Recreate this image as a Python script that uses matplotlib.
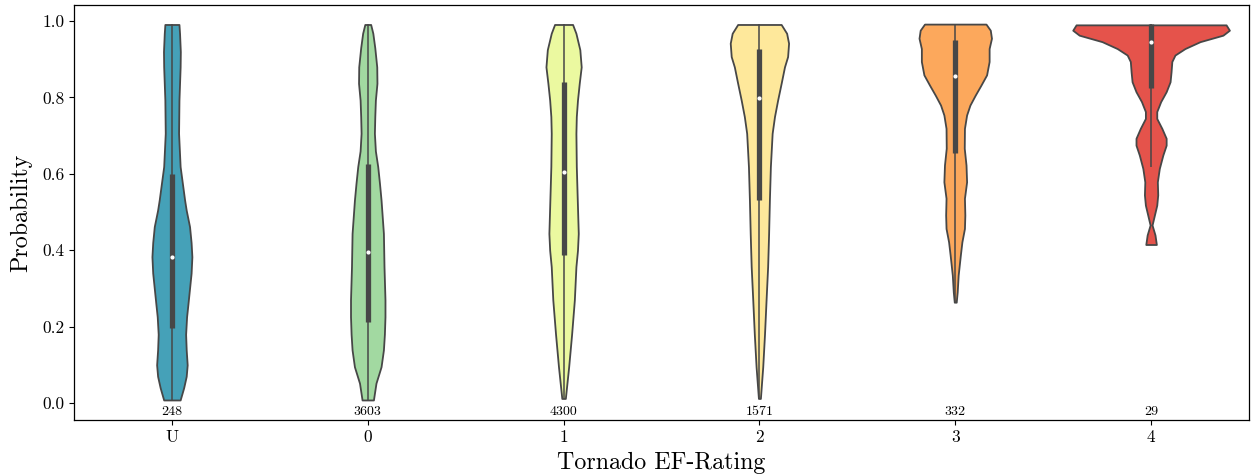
import matplotlib
matplotlib.use("Agg")
import matplotlib.pyplot as plt
import numpy as np

plt.rcParams["font.family"] = "serif"
plt.rcParams["font.serif"] = ["cmr10"]
plt.rcParams["mathtext.fontset"] = "cm"
plt.rcParams["axes.formatter.use_mathtext"] = True

# EF-rating categories and number of tornadoes in each
ratings = ["U", "0", "1", "2", "3", "4"]
counts = [248, 3603, 4300, 1571, 332, 29]
colors = ["#45a1b8", "#a2d9a1", "#ebf9a0", "#fee89b", "#fca85c", "#e5534b"]

# density profiles: probability levels and violin half-widths (category units)
prob_U = [0.991, 0.968, 0.920, 0.880, 0.793, 0.706, 0.619, 0.531, 0.505, 0.462,
          0.420, 0.383, 0.340, 0.300, 0.260, 0.226, 0.180, 0.139, 0.100, 0.070,
          0.040, 0.008]
half_U = [0.036, 0.039, 0.043, 0.042, 0.036, 0.034, 0.042, 0.065, 0.073, 0.090,
          0.098, 0.102, 0.098, 0.090, 0.082, 0.075, 0.070, 0.073, 0.078, 0.073,
          0.060, 0.042]

prob_0 = [0.991, 0.968, 0.930, 0.880, 0.837, 0.793, 0.750, 0.706, 0.660, 0.619,
          0.575, 0.531, 0.444, 0.357, 0.270, 0.226, 0.180, 0.139, 0.095, 0.052,
          0.008]
half_0 = [0.015, 0.026, 0.036, 0.046, 0.047, 0.039, 0.036, 0.034, 0.039, 0.051,
          0.060, 0.068, 0.080, 0.083, 0.088, 0.088, 0.085, 0.080, 0.068, 0.042,
          0.029]

prob_1 = [0.991, 0.968, 0.925, 0.880, 0.837, 0.793, 0.750, 0.706, 0.619, 0.531,
          0.444, 0.400, 0.357, 0.270, 0.180, 0.095, 0.012]
half_1 = [0.046, 0.063, 0.083, 0.090, 0.080, 0.071, 0.065, 0.063, 0.065, 0.070,
          0.075, 0.071, 0.063, 0.055, 0.041, 0.026, 0.009]

prob_2 = [0.991, 0.968, 0.942, 0.907, 0.880, 0.837, 0.793, 0.750, 0.706, 0.619,
          0.531, 0.444, 0.357, 0.270, 0.180, 0.095, 0.012]
half_2 = [0.111, 0.139, 0.149, 0.144, 0.128, 0.111, 0.093, 0.077, 0.065, 0.056,
          0.051, 0.047, 0.042, 0.034, 0.026, 0.017, 0.005]

prob_3 = [0.992, 0.976, 0.955, 0.928, 0.894, 0.859, 0.832, 0.806, 0.780, 0.754,
          0.719, 0.667, 0.623, 0.579, 0.536, 0.492, 0.457, 0.422, 0.387, 0.335,
          0.291, 0.264]
half_3 = [0.157, 0.179, 0.185, 0.173, 0.173, 0.160, 0.131, 0.102, 0.075, 0.058,
          0.047, 0.046, 0.055, 0.058, 0.047, 0.049, 0.047, 0.034, 0.026, 0.015,
          0.010, 0.005]

prob_4 = [0.990, 0.976, 0.963, 0.946, 0.928, 0.911, 0.894, 0.867, 0.841, 0.815,
          0.789, 0.763, 0.745, 0.719, 0.693, 0.675, 0.649, 0.614, 0.579, 0.545,
          0.518, 0.492, 0.466, 0.440, 0.415]
half_4 = [0.383, 0.400, 0.367, 0.250, 0.173, 0.122, 0.106, 0.102, 0.097, 0.077,
          0.049, 0.029, 0.029, 0.055, 0.077, 0.077, 0.060, 0.042, 0.032, 0.034,
          0.029, 0.017, 0.005, 0.020, 0.027]

# inner box summary: quartiles, median and whisker ends
q1 = [0.197, 0.213, 0.387, 0.531, 0.655, 0.824]
median = [0.382, 0.396, 0.604, 0.799, 0.856, 0.946]
q3 = [0.599, 0.626, 0.841, 0.926, 0.950, 0.991]
whisk_lo = [0.008, 0.008, 0.012, 0.012, 0.264, 0.619]
whisk_hi = [0.991, 0.991, 0.991, 0.991, 0.992, 0.991]

profiles = [(prob_U, half_U), (prob_0, half_0), (prob_1, half_1),
            (prob_2, half_2), (prob_3, half_3), (prob_4, half_4)]

fig = plt.figure(figsize=(12.52, 4.76), dpi=100)
ax = fig.add_axes([0.0591, 0.1176, 0.9385, 0.8719])

positions = np.arange(len(ratings))
vpstats = []
widths = []
for i, (prob, half) in enumerate(profiles):
    vpstats.append({
        "coords": np.array(prob),
        "vals": np.array(half),
        "mean": median[i],
        "median": median[i],
        "min": min(prob),
        "max": max(prob),
    })
    widths.append(2 * max(half))

parts = ax.violin(vpstats, positions=positions, widths=widths,
                  showmeans=False, showextrema=False, showmedians=False)
for body, c in zip(parts["bodies"], colors):
    body.set_facecolor(c)
    body.set_edgecolor("#474747")
    body.set_linewidth(1.3)
    body.set_alpha(1)

ax.vlines(positions, whisk_lo, whisk_hi, color="#474747", lw=1.1, zorder=3)
ax.vlines(positions, q1, q3, color="#474747", lw=3.8, zorder=3)
ax.scatter(positions, median, s=4, color="white", zorder=4)

for x, n in zip(positions, counts):
    ax.text(x, -0.023, str(n), ha="center", va="center", fontsize=10)

ax.set_xlim(-0.5, 5.5)
ax.set_ylim(-0.0445, 1.042)
ax.set_xticks(positions)
ax.set_xticklabels(ratings)
ax.set_yticks([0.0, 0.2, 0.4, 0.6, 0.8, 1.0])
ax.set_yticklabels(["0.0", "0.2", "0.4", "0.6", "0.8", "1.0"])
ax.tick_params(labelsize=12.5, length=3.5, width=0.8, direction="out")
ax.set_xlabel("Tornado EF-Rating", fontsize=17.3, labelpad=5)
ax.set_ylabel("Probability", fontsize=17.3, labelpad=7)
for s in ax.spines.values():
    s.set_linewidth(0.9)

fig.savefig("out.png", dpi=100)
